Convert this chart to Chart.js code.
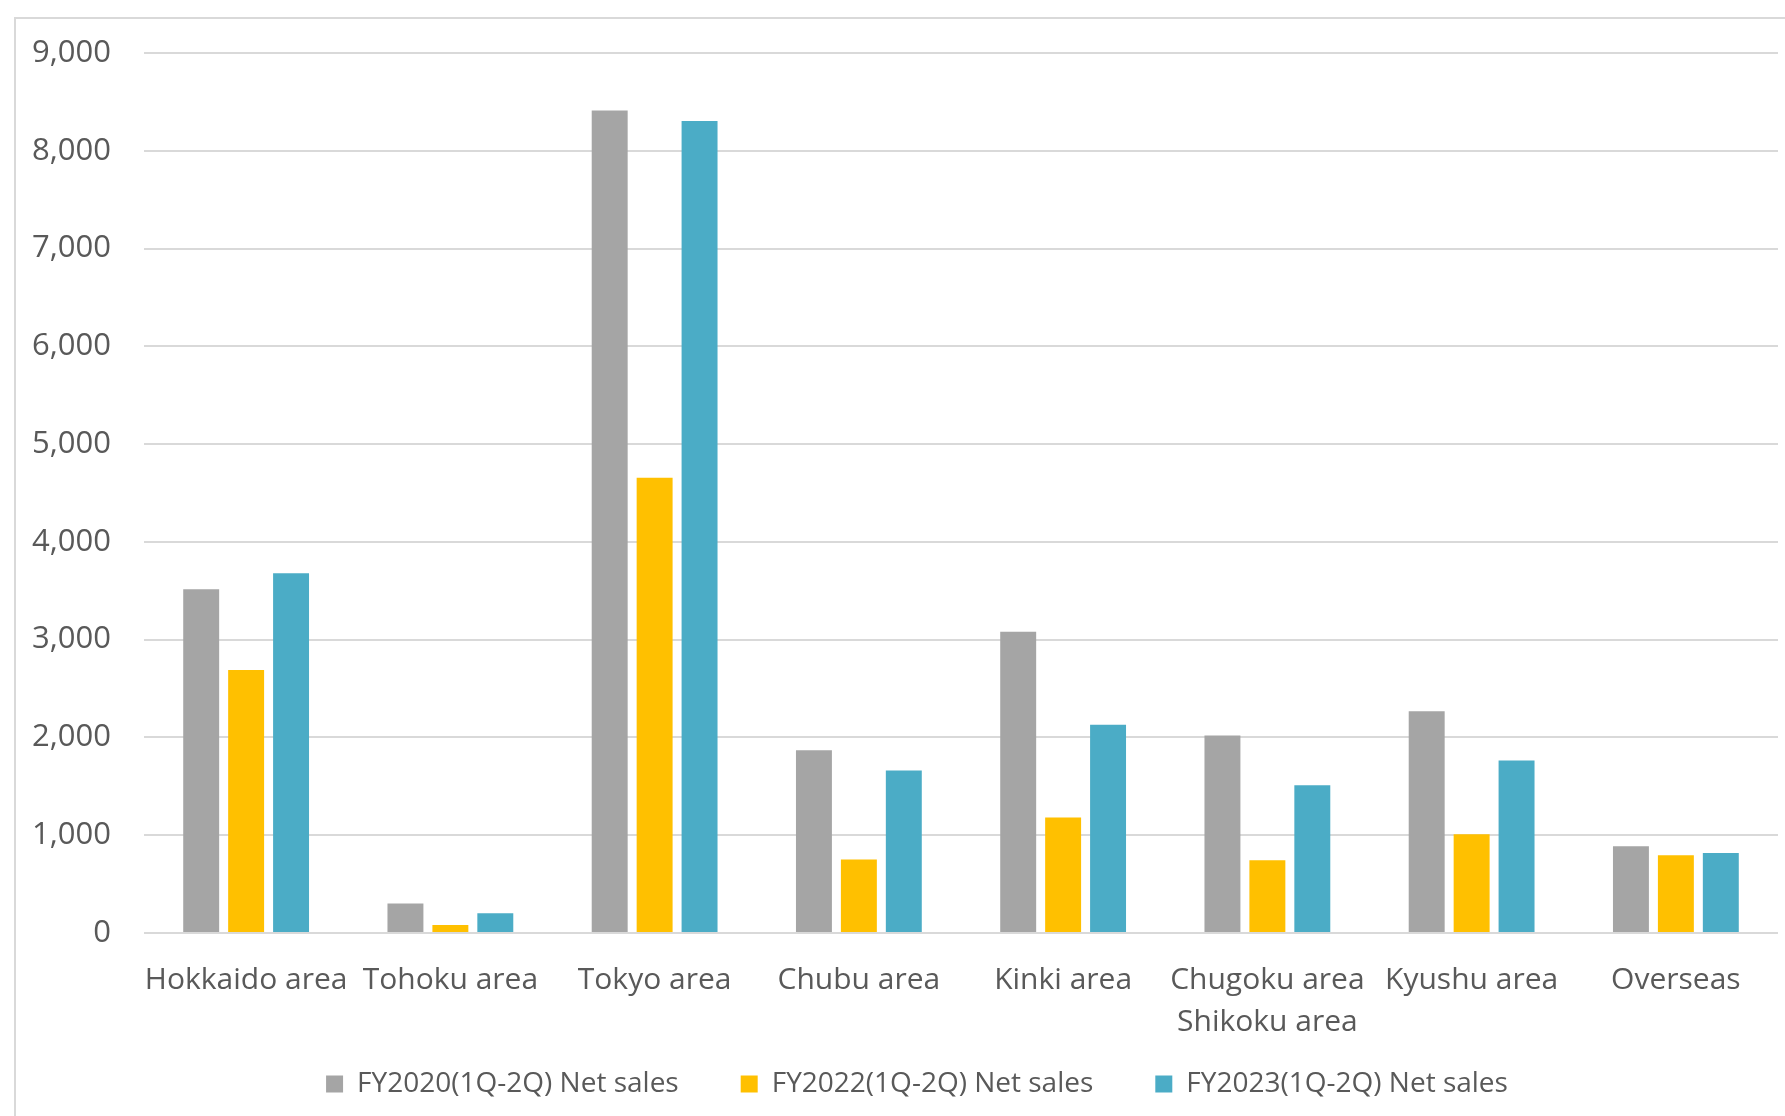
<!DOCTYPE html>
<html>
<head>
<meta charset="utf-8">
<script src="https://cdn.jsdelivr.net/npm/chart.js@4"></script>
<style>
  html, body { margin: 0; padding: 0; background: #fff; overflow: hidden; }
  #marco { position: absolute; left: 14px; top: 17px; width: 1800px; height: 1200px; border: 2px solid #d9d9d9; }
  #wrap { position: absolute; left: 0; top: 0; width: 1785px; height: 1116px; }
</style>
</head>
<body>
<div id="marco"></div>
<div id="wrap"><canvas id="ventasChart"></canvas></div>
<script>
// Datos (ventas netas por zona)
const zonas = ['Hokkaido area', 'Tohoku area', 'Tokyo area', 'Chubu area', 'Kinki area',
               ['Chugoku area', 'Shikoku area'], 'Kyushu area', 'Overseas'];
const ventas2020 = [3515, 301, 8411, 1870, 3081, 2020, 2269, 887];
const ventas2022 = [2689, 82, 4657, 751, 1181, 744, 1010, 795];
const ventas2023 = [3679, 202, 8305, 1662, 2129, 1511, 1765, 817];
const nombresSeries = ['FY2020(1Q-2Q) Net sales', 'FY2022(1Q-2Q) Net sales', 'FY2023(1Q-2Q) Net sales'];
const coloresSeries = ['#a5a5a5', '#ffc000', '#4bacc6'];

const familia = '"Open Sans", sans-serif';
const gris = '#595959';
const espacioLeyenda = 62;

const series = [ventas2020, ventas2022, ventas2023].map((valores, i) => ({
    label: nombresSeries[i],
    data: valores,
    backgroundColor: coloresSeries[i],
    categoryPercentage: 0.66,
    barPercentage: 0.8
}));

// La leyenda reserva menos alto y luego se sube para solaparse con las etiquetas del eje
const ajusteLeyenda = {
    id: 'ajusteLeyenda',
    beforeLayout(chart) {
        const leyenda = chart.legend;
        if (leyenda && !leyenda._ajustada) {
            const fitOriginal = leyenda.fit.bind(leyenda);
            leyenda.fit = function() { fitOriginal(); this.height = 65; };
            leyenda._ajustada = true;
        }
    },
    afterLayout(chart) {
        const leyenda = chart.legend;
        leyenda.top = 1070 - espacioLeyenda;
        leyenda.bottom = chart.height;
        leyenda.height = leyenda.bottom - leyenda.top;
        leyenda.left += 28;
        leyenda.right += 28;
    }
};

const ctx = document.getElementById('ventasChart').getContext('2d');
window.ventasChart = new Chart(ctx, {
    type: 'bar',
    data: { labels: zonas, datasets: series },
    plugins: [ajusteLeyenda],
    options: {
        responsive: true,
        maintainAspectRatio: false,
        animation: false,
        layout: { padding: { top: 53, right: 7, left: 0, bottom: 8 } },
        scales: {
            x: {
                afterFit: function(axis) { axis.height = 110; },
                grid: { display: false },
                border: { display: false },
                ticks: { color: gris, font: { family: familia, size: 30, lineHeight: 1.4 }, padding: 18, maxRotation: 0, autoSkip: false }
            },
            y: {
                min: 0,
                max: 9000,
                afterFit: function(axis) { axis.width = 144; },
                grid: { color: '#d9d9d9', lineWidth: 2, drawTicks: false },
                border: { display: false },
                ticks: {
                    stepSize: 1000,
                    color: gris,
                    font: { family: familia, size: 31 },
                    padding: 33,
                    callback: v => v.toLocaleString('en-US')
                }
            }
        },
        plugins: {
            legend: {
                position: 'bottom',
                labels: { color: gris, font: { family: familia, size: 28 }, boxWidth: 17, boxHeight: 17, padding: espacioLeyenda }
            },
            tooltip: { enabled: false }
        }
    }
});
</script>
</body>
</html>
